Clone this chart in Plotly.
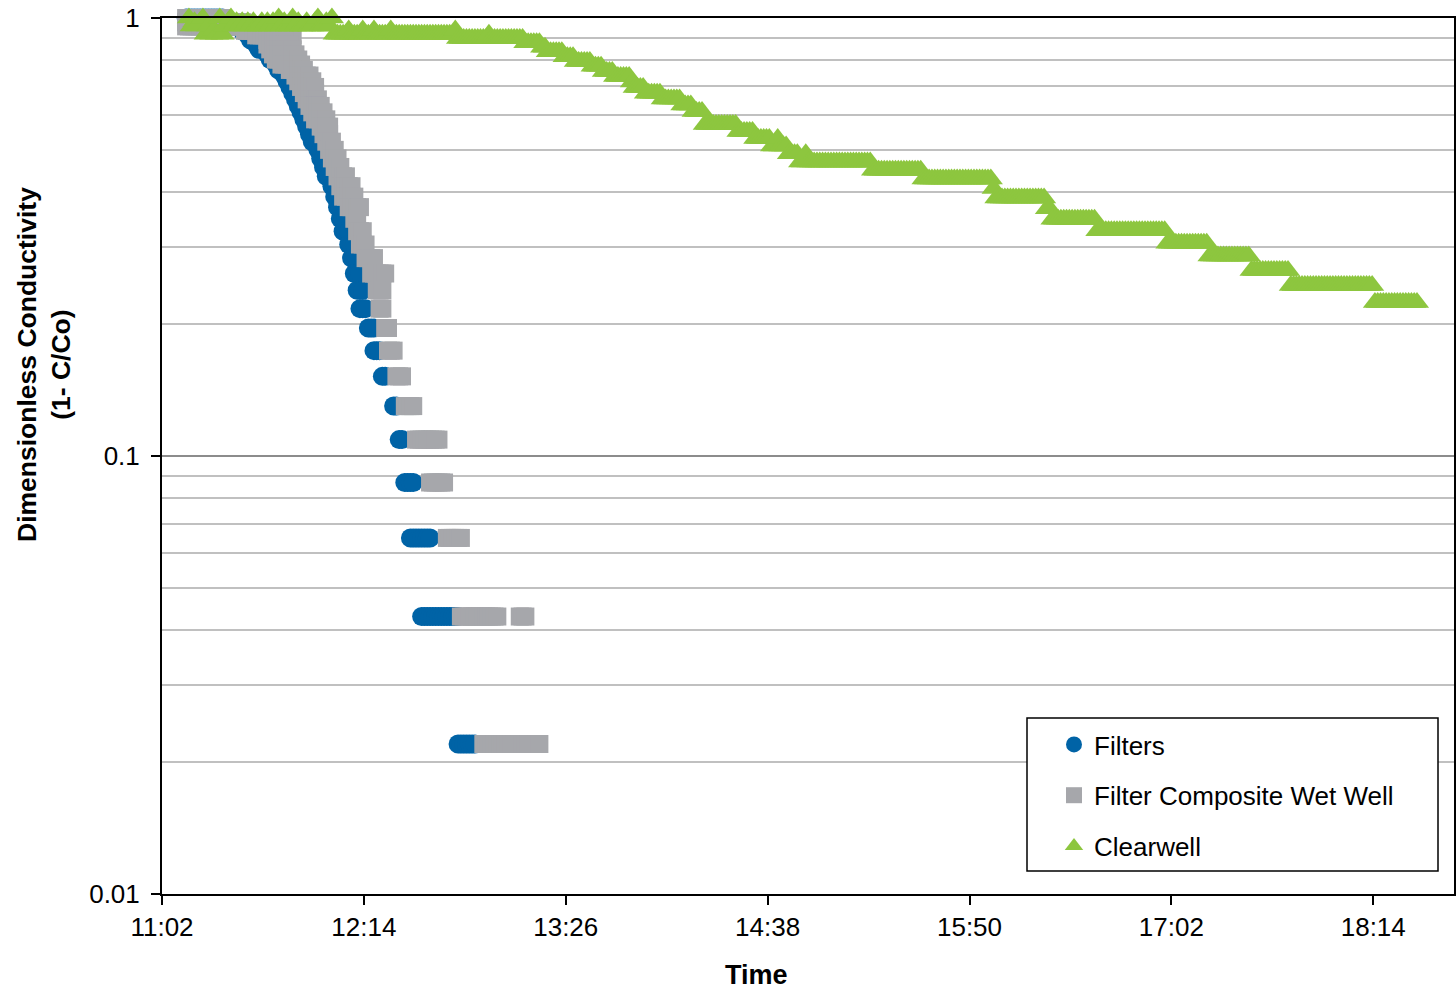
import pandas as pd
import plotly.graph_objects as go

DAY = "2000-01-01 "

# ---------------- data ----------------
# Filters: level value, first and last reading time (readings every minute)
flt_level = [1.000, 0.978, 0.957, 0.935, 0.913, 0.891, 0.870, 0.848, 0.826, 0.804,
             0.783, 0.761, 0.739, 0.717, 0.696, 0.674, 0.652, 0.630, 0.609, 0.587,
             0.565, 0.543, 0.522, 0.500, 0.478, 0.457, 0.435, 0.413, 0.391, 0.370,
             0.348, 0.326, 0.304, 0.283, 0.261, 0.239, 0.217, 0.196, 0.174, 0.152,
             0.130, 0.109, 0.087, 0.065, 0.043, 0.022]
flt_start = ["11:11", "11:22", "11:26", "11:31", "11:33", "11:34", "11:36", "11:37", "11:40", "11:41",
             "11:43", "11:44", "11:46", "11:47", "11:48", "11:49", "11:50", "11:51", "11:52", "11:53",
             "11:54", "11:55", "11:56", "11:58", "11:59", "12:00", "12:01", "12:03", "12:04", "12:05",
             "12:06", "12:07", "12:09", "12:10", "12:11", "12:12", "12:13", "12:16", "12:18", "12:21",
             "12:25", "12:27", "12:29", "12:31", "12:35", "12:48"]
flt_end = ["11:24", "11:29", "11:31", "11:34", "11:35", "11:36", "11:38", "11:40", "11:42", "11:43",
           "11:44", "11:46", "11:47", "11:48", "11:49", "11:50", "11:51", "11:52", "11:54", "11:55",
           "11:56", "11:57", "11:58", "12:00", "12:01", "12:02", "12:03", "12:05", "12:06", "12:07",
           "12:08", "12:09", "12:11", "12:12", "12:13", "12:14", "12:15", "12:18", "12:20", "12:22",
           "12:26", "12:28", "12:32", "12:38", "12:48", "12:54"]

# Filter Composite Wet Well
fcw_level = [1.000, 0.978, 0.957, 0.935, 0.913, 0.891, 0.870, 0.848, 0.826, 0.804,
             0.783, 0.761, 0.739, 0.717, 0.696, 0.674, 0.652, 0.630, 0.609, 0.587,
             0.565, 0.543, 0.522, 0.500, 0.478, 0.457, 0.435, 0.413, 0.391, 0.370,
             0.348, 0.326, 0.304, 0.283, 0.261, 0.239, 0.217, 0.196, 0.174, 0.152,
             0.130, 0.109, 0.087, 0.065, 0.043, 0.043, 0.022]
fcw_start = ["11:11", "11:11", "11:11", "11:32", "11:36", "11:40", "11:40", "11:41", "11:42", "11:43",
             "11:45", "11:48", "11:50", "11:51", "11:52", "11:53", "11:54", "11:55", "11:56", "11:57",
             "11:59", "12:00", "12:01", "12:02", "12:03", "12:04", "12:05", "12:06", "12:07", "12:09",
             "12:11", "12:12", "12:13", "12:15", "12:17", "12:19", "12:20", "12:22", "12:23", "12:26",
             "12:29", "12:33", "12:38", "12:44", "12:49", "13:10", "12:57"]
fcw_end = ["11:24", "11:31", "11:31", "11:42", "11:49", "11:46", "11:48", "11:49", "11:50", "11:51",
           "11:52", "11:53", "11:55", "11:56", "11:57", "11:57", "11:58", "11:59", "12:00", "12:01",
           "12:02", "12:02", "12:03", "12:04", "12:05", "12:06", "12:08", "12:10", "12:11", "12:13",
           "12:12", "12:14", "12:15", "12:18", "12:22", "12:21", "12:21", "12:23", "12:25", "12:28",
           "12:32", "12:41", "12:43", "12:49", "13:02", "13:12", "13:17"]

# Clearwell: noisy start, one reading per minute from 11:12
cw_early_start = "11:12"
cw_early_vals = [1.000, 0.959, 0.980, 0.959, 0.980, 1.000, 0.918, 0.959, 0.918, 0.939,
                 0.918, 1.000, 0.918, 0.959, 0.980, 1.000, 0.959, 0.980, 0.959, 0.980,
                 0.959, 0.980, 0.959, 0.980, 0.959, 0.959, 0.980, 0.959, 0.980, 0.959,
                 0.980, 0.959, 1.000, 0.959, 0.980, 0.959, 0.959, 1.000, 0.959, 0.980,
                 0.959, 0.959, 0.980, 0.959, 0.959, 0.980, 1.000, 0.959, 0.959, 0.980,
                 0.959, 1.000]
# Clearwell: stepped part
cw_level = [0.918, 0.939, 0.918, 0.939, 0.918, 0.939, 0.918, 0.939, 0.918, 0.939,
            0.898, 0.918, 0.898, 0.878, 0.857, 0.837, 0.816, 0.796, 0.776, 0.755,
            0.735, 0.714, 0.694, 0.673, 0.653, 0.633, 0.612, 0.571, 0.551, 0.531,
            0.510, 0.531, 0.510, 0.490, 0.469, 0.490, 0.469, 0.449, 0.429, 0.408,
            0.388, 0.367, 0.347, 0.327, 0.306, 0.286, 0.265, 0.245, 0.224]
cw_start = ["12:04", "12:09", "12:10", "12:14", "12:15", "12:18", "12:19", "12:24", "12:25", "12:47",
            "12:48", "12:59", "13:00", "13:12", "13:18", "13:20", "13:26", "13:30", "13:36", "13:40",
            "13:44", "13:50", "13:51", "13:55", "14:01", "14:08", "14:12", "14:16", "14:28", "14:34",
            "14:40", "14:42", "14:43", "14:46", "14:50", "14:52", "14:53", "15:16", "15:34", "15:59",
            "16:00", "16:18", "16:20", "16:36", "17:01", "17:16", "17:31", "17:45", "18:15"]
cw_end = ["12:08", "12:09", "12:13", "12:14", "12:17", "12:18", "12:23", "12:24", "12:46", "12:47",
          "12:58", "12:59", "13:11", "13:17", "13:19", "13:25", "13:29", "13:35", "13:39", "13:43",
          "13:49", "13:50", "13:54", "14:00", "14:07", "14:11", "14:15", "14:27", "14:33", "14:39",
          "14:41", "14:42", "14:45", "14:49", "14:51", "14:52", "15:15", "15:33", "15:58", "15:59",
          "16:17", "16:19", "16:35", "17:00", "17:15", "17:30", "17:44", "18:14", "18:30"]

x_tick_vals = ["11:02:24", "12:14:24", "13:26:24", "14:38:24", "15:50:24", "17:02:24", "18:14:24"]
x_tick_text = ["11:02", "12:14", "13:26", "14:38", "15:50", "17:02", "18:14"]
x_range = ["11:02:24", "18:43:12"]
y_tick_vals = [0.01, 0.1, 1]
y_tick_text = ["0.01", "0.1", "1"]
y_minor_vals = [0.02, 0.03, 0.04, 0.05, 0.06, 0.07, 0.08, 0.09,
                0.2, 0.3, 0.4, 0.5, 0.6, 0.7, 0.8, 0.9]


def expand(levels, starts, ends):
    xs, ys = [], []
    for v, s, e in zip(levels, starts, ends):
        for t in pd.date_range(DAY + s, DAY + e, freq="1min"):
            xs.append(t)
            ys.append(v)
    return xs, ys


fx, fy = expand(flt_level, flt_start, flt_end)
cx, cy = expand(fcw_level, fcw_start, fcw_end)
ex = list(pd.date_range(DAY + cw_early_start, periods=len(cw_early_vals), freq="1min"))
wx, wy = expand(cw_level, cw_start, cw_end)
wx = ex + wx
wy = list(cw_early_vals) + wy

BLUE = "#0063A6"
GREY = "#A6A7AB"
GREEN = "#8DC63F"
FONT = "Arial, Liberation Sans, sans-serif"

fig = go.Figure()
fig.add_trace(go.Scatter(x=fx, y=fy, mode="markers", name="Filters", legendgroup="a",
                         marker=dict(symbol="circle", size=19, color=BLUE, line=dict(width=0)),
                         cliponaxis=False))
fig.add_trace(go.Scatter(x=cx, y=cy, mode="markers", name="Filter Composite Wet Well", legendgroup="b",
                         marker=dict(symbol="square", size=18, color=GREY, line=dict(width=0)),
                         cliponaxis=False))
fig.add_trace(go.Scatter(x=wx, y=wy, mode="markers", name="Clearwell", legendgroup="c",
                         marker=dict(symbol="triangle-up", size=21, color=GREEN, line=dict(width=0)),
                         cliponaxis=False))

# the page's body margin is removed (post_script), so the figure fills the window
W, H = 1456, 990
L, R, T, B = 162, 2, 18, 96
pw, ph = W - L - R, H - T - B


def px(x):
    return (x - L) / pw


def py(y):
    return (H - B - y) / ph


fig.update_layout(
    width=W, height=H,
    margin=dict(l=L, r=R, t=T, b=B, autoexpand=False),
    paper_bgcolor="white", plot_bgcolor="white",
    font=dict(family=FONT, size=26, color="black"),
    showlegend=True,
    legend=dict(x=px(1054), y=py(721), xanchor="left", yanchor="top",
                bgcolor="rgba(0,0,0,0)", borderwidth=0, tracegroupgap=14,
                font=dict(size=26, family=FONT), itemclick=False),
    xaxis=dict(type="date", range=[DAY + x_range[0], DAY + x_range[1]],
               tickvals=[DAY + v for v in x_tick_vals], ticktext=x_tick_text,
               ticks="outside", ticklen=9, tickwidth=2, tickcolor="black",
               showline=True, linecolor="black", linewidth=2, mirror=True,
               showgrid=False, zeroline=False, ticklabelstandoff=0, automargin=False,
               tickfont=dict(size=26, family=FONT)),
    yaxis=dict(type="log", range=[-2.000001, 0.000001],
               tickvals=y_tick_vals, ticktext=y_tick_text,
               ticks="outside", ticklen=9, tickwidth=2, tickcolor="black",
               showline=True, linecolor="black", linewidth=2, mirror=True,
               showgrid=True, gridcolor="#8C8C8C", gridwidth=1.5, zeroline=False,
               ticklabelstandoff=6, ticklabeloverflow="allow", automargin=False,
               tickfont=dict(size=26, family=FONT),
               minor=dict(tickvals=y_minor_vals, showgrid=True, gridcolor="#C0C0C0",
                          gridwidth=1.5, ticks="")),
    shapes=[dict(type="rect", xref="paper", yref="paper",
                 x0=px(1027), x1=px(1438), y0=py(871), y1=py(718),
                 line=dict(color="black", width=1.5), fillcolor="white", layer="above")],
    annotations=[
        dict(text="<b>Time</b>", xref="paper", yref="paper", x=px(756), y=py(975),
             xanchor="center", yanchor="middle", showarrow=False,
             font=dict(size=27, family=FONT)),
        dict(text="<b>Dimensionless Conductivity<br>(1- C/Co)</b>", xref="paper", yref="paper",
             x=px(44), y=py(365), xanchor="center", yanchor="middle", showarrow=False,
             textangle=-90, font=dict(size=26.5, family=FONT)),
    ],
)

fig.write_html("out.html", config={"displayModeBar": False},
               post_script="document.body.style.margin='0';document.body.style.overflow='hidden';")
